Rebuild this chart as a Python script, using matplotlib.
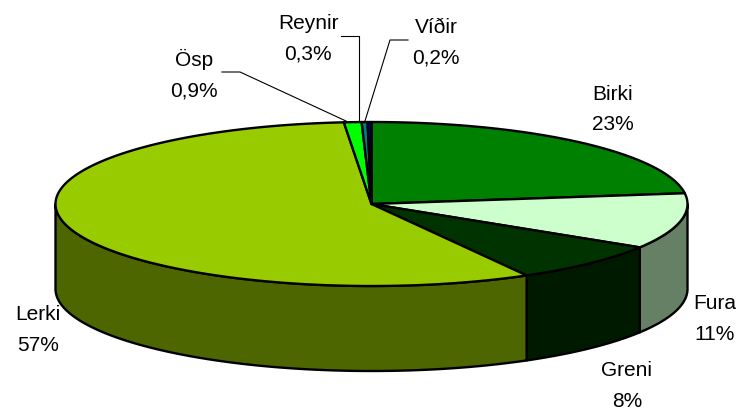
import numpy as np
import matplotlib
matplotlib.use('Agg')
import matplotlib.pyplot as plt
from matplotlib.patches import Polygon

plt.rcParams['font.family'] = ['Liberation Sans', 'DejaVu Sans']

# Tegundir og hlutfall
tegundir = ['Birki', 'Fura', 'Greni', 'Lerki', 'Ösp', 'Reynir', 'Víðir']
hlutfall = [23, 11, 8, 57, 0.9, 0.3, 0.2]
merki = ['23%', '11%', '8%', '57%', '0,9%', '0,3%', '0,2%']

top_litir = ['#008000', '#CCFFCC', '#003300', '#99CC00', '#00FF00', '#008080', '#000080']
hlid_litir = ['#004000', '#668066', '#001A00', '#4D6600', '#008000', '#004040', '#000040']

# stadsetning textans (pixlar)
texti_xy = [(613, 109.5), (715, 319), (627, 386), (38, 330), (194, 74.5), (308, 38.5), (436, 42.5)]

# kokan i pixlum
cx, cy = 371.5, 205
rx, ry = 316, 82
depth = 85

fig = plt.figure(figsize=(7.39, 4.10), dpi=100)
ax = fig.add_axes([0, 0, 1, 1])
ax.set_xlim(0, 739)
ax.set_ylim(410, 0)
ax.axis('off')


def punktar(a, b):
    t = np.linspace(a, b, max(int(abs(b - a) * 200), 2))
    return cx + rx * np.sin(t), cy - ry * np.cos(t)


horn = np.concatenate([[0], np.cumsum(hlutfall)]) / sum(hlutfall) * 2 * np.pi

# hlidarnar fyrst
for i in range(len(hlutfall)):
    a = max(horn[i], np.pi / 2)
    b = min(horn[i + 1], 3 * np.pi / 2)
    if b <= a:
        continue
    x, y = punktar(a, b)
    xs = np.concatenate([x, x[::-1]])
    ys = np.concatenate([y, y[::-1] + depth])
    ax.add_patch(Polygon(np.column_stack([xs, ys]), facecolor=hlid_litir[i],
                         edgecolor='black', linewidth=1.7, joinstyle='round'))

# svo toppurinn
for i in range(len(hlutfall)):
    x, y = punktar(horn[i], horn[i + 1])
    xs = np.concatenate([[cx], x])
    ys = np.concatenate([[cy], y])
    ax.add_patch(Polygon(np.column_stack([xs, ys]), facecolor=top_litir[i],
                         edgecolor='black', linewidth=1.7, joinstyle='round'))

# textar
for nafn, pr, (tx, ty) in zip(tegundir, merki, texti_xy):
    ax.text(tx, ty, nafn + '\n' + pr, ha='center', va='center', fontsize=15,
            color='black', linespacing=1.75)

# leidarar
ax.plot([222, 240, 346], [73, 73, 122], color='black', lw=0.8)
ax.plot([341, 359, 359], [37, 37, 122], color='black', lw=0.8)
ax.plot([408, 390, 365], [41, 41, 122], color='black', lw=0.8)

fig.savefig('out.png', dpi=100)
